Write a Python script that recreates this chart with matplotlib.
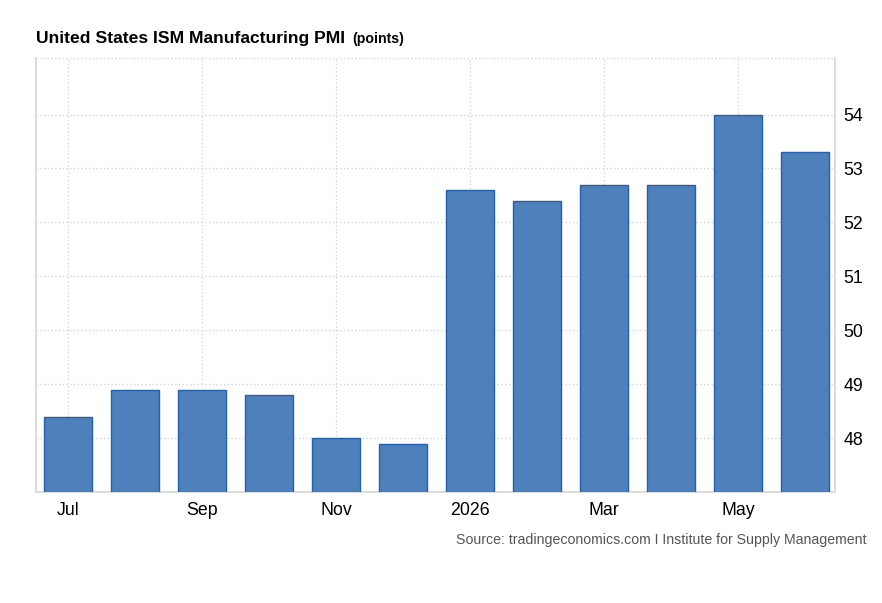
import matplotlib
matplotlib.use("Agg")
from matplotlib import pyplot as plt
import numpy as np

months = ["Jul", "Aug", "Sep", "Oct", "Nov", "Dec", "2026", "Feb", "Mar", "Apr", "May", "Jun"]
pmi = [48.4, 48.9, 48.9, 48.8, 48.0, 47.9, 52.6, 52.4, 52.7, 52.7, 54.0, 53.3]
yticks = [48, 49, 50, 51, 52, 53, 54]

plt.rcParams['font.family'] = ['Liberation Sans', 'DejaVu Sans']

fig = plt.figure(figsize=(8.82, 6.03), dpi=100)
ax = fig.add_axes([0.0408, 0.184, 0.9059, 0.72])

x = np.arange(len(months))
ax.bar(x, pmi, width=0.72, color='#4e80bb', edgecolor='#2360b0', linewidth=1.0, zorder=3)

ax.set_xlim(-0.48, 11.45)
ax.set_ylim(47.0, 55.05)

# only every other month gets a label / gridline
ax.set_xticks(x[::2])
ax.set_xticklabels(months[::2])
ax.set_yticks(yticks)
ax.yaxis.tick_right()

ax.grid(True, color='#cfcfcf', linestyle=(0, (1, 2)), linewidth=0.9, zorder=0)
ax.axhline(55.05, color='#cfcfcf', linestyle=(0, (1, 2)), linewidth=0.9, zorder=0)

for side in ['left', 'bottom', 'right']:
    ax.spines[side].set_color('#d6d6d6')
    ax.spines[side].set_linewidth(1.2)
ax.spines['top'].set_visible(False)

ax.tick_params(axis='both', length=0, labelsize=12.8, colors='black')
ax.tick_params(axis='x', pad=7)
ax.tick_params(axis='y', pad=6)

fig.text(0.0408, 0.928, 'United States ISM Manufacturing PMI', fontsize=12.6, fontweight='bold', ha='left', va='baseline')
fig.text(0.3995, 0.928, '(points)', fontsize=10.2, fontweight='bold', ha='left', va='baseline')

fig.text(0.982, 0.104, 'Source: tradingeconomics.com I Institute for Supply Management',
         fontsize=10.2, color='#555555', ha='right', va='center')

fig.savefig('out.png', dpi=100)
